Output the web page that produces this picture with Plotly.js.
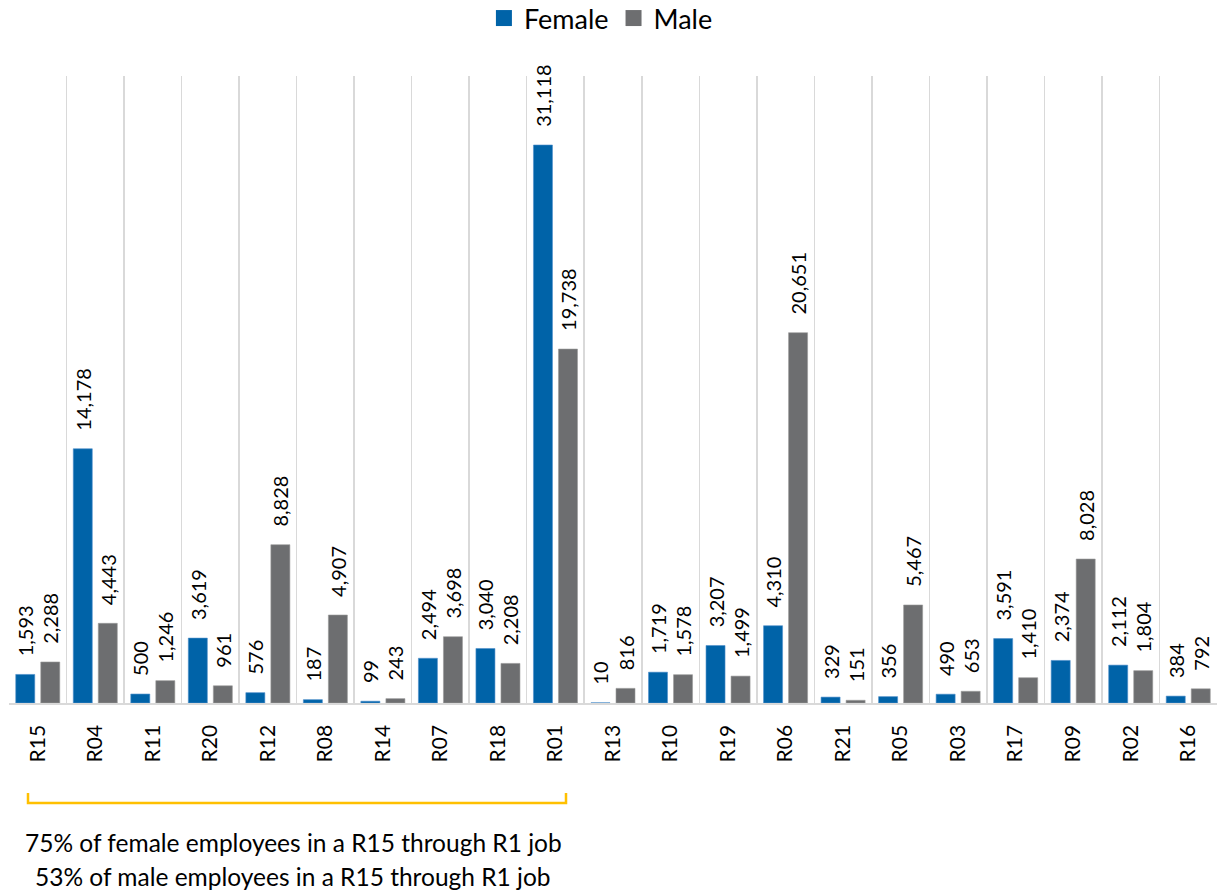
<!DOCTYPE html>
<html>
<head>
<meta charset="utf-8">
<script src="https://cdn.plot.ly/plotly-3.0.1.min.js"></script>
<style>html,body{margin:0;padding:0;background:#fff;}#chart{width:1217px;height:892px;}</style>
</head>
<body>
<div id="chart"></div>
<script>
const categories = ["R15","R04","R11","R20","R12","R08","R14","R07","R18","R01","R13","R10","R19","R06","R21","R05","R03","R17","R09","R02","R16"];
const female = [1593,14178,500,3619,576,187,99,2494,3040,31118,10,1719,3207,4310,329,356,490,3591,2374,2112,384];
const male = [2288,4443,1246,961,8828,4907,243,3698,2208,19738,816,1578,1499,20651,151,5467,653,1410,8028,1804,792];
const seriesNames = ["Female","Male"];
const seriesColors = ["#0063A8","#6D6E70"];
const noteLines = ["75% of female employees in a R15 through R1 job","53% of male employees in a R15 through R1 job"];

const W = 1217, H = 892, L = 9, R = 0, T = 76, B = 189;
const px = x => (x - L) / (W - L - R);
const py = y => (H - B - y) / (H - T - B);

const labelFont = {family: "Lato", size: 20, color: "#000"};
const mkBar = (vals, i) => ({
  type: "bar", name: seriesNames[i], x: categories, y: vals, showlegend: false,
  marker: {color: seriesColors[i], line: {color: i === 0 ? "#4F8FCB" : "#9A9A9A", width: 0.6}},
  texttemplate: "\u2002\u00A0%{y:,}", textposition: "outside", textangle: -90,
  textfont: labelFont, outsidetextfont: labelFont,
  cliponaxis: false, constraintext: "none", hoverinfo: "x+y"
});
const legendItem = i => ({
  type: "scatter", mode: "markers", name: seriesNames[i], x: [null], y: [null],
  marker: {symbol: "square", size: 17, color: seriesColors[i]}, showlegend: true
});
const traces = [mkBar(female, 0), mkBar(male, 1), legendItem(0), legendItem(1)];

const layout = {
  width: W, height: H,
  margin: {l: L, r: R, t: T, b: B, pad: 0, autoexpand: false},
  paper_bgcolor: "#fff", plot_bgcolor: "#fff",
  barmode: "group", bargap: 0.13, bargroupgap: 0.24,
  showlegend: true,
  legend: {orientation: "h", x: 0.49, xanchor: "center", y: py(-6), yanchor: "top", itemsizing: "trace",
           font: {family: "Lato", size: 27, color: "#000"}, itemwidth: 30, traceorder: "normal", tracegroupgap: 0},
  xaxis: {type: "category", tickson: "boundaries", showgrid: true, gridcolor: "#D9D9D9", gridwidth: 1.5,
          showline: true, linecolor: "#D9D9D9", linewidth: 1.5, ticks: "", tickangle: -90, automargin: false,
          tickfont: {family: "Lato", size: 21, color: "#000"}, ticklabelstandoff: 12},
  yaxis: {range: [0, 34966], showgrid: false, zeroline: false, showticklabels: false, showline: false, ticks: "", automargin: false},
  shapes: [
    {type: "path", xref: "paper", yref: "paper",
     path: `M ${px(28)} ${py(793)} L ${px(28)} ${py(803)} L ${px(566)} ${py(803)} L ${px(566)} ${py(793)}`,
     line: {color: "#FFC000", width: 2.5}}
  ],
  annotations: noteLines.map((t, i) => ({
    text: t, xref: "paper", yref: "paper", x: px(293), y: py(843 + i * 34), xanchor: "center", yanchor: "middle",
    showarrow: false, font: {family: "Lato", size: 24.5, color: "#000"}
  }))
};

Plotly.newPlot("chart", traces, layout, {displayModeBar: false, staticPlot: true});
</script>
</body>
</html>
